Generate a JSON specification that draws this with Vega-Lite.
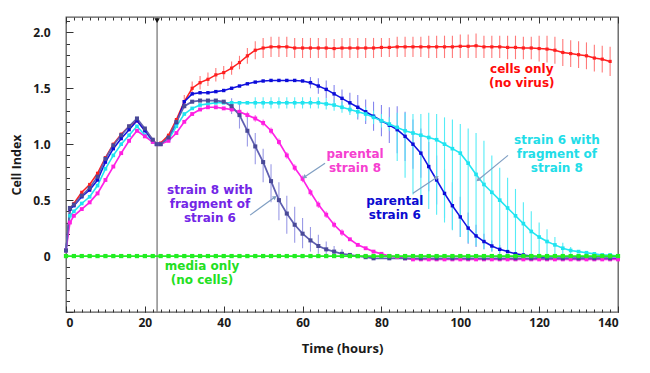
{
"$schema":"https://vega.github.io/schema/vega-lite/v6.json",
"width":552,"height":295,"autosize":"none",
"padding":{"left":66,"top":17,"right":32,"bottom":61},
"background":"white",
"config":{"view":{"stroke":"#5a5a5a","strokeWidth":1.3},"font":"Open Sans",
 "axis":{"grid":false,"domain":false,"tickColor":"#333","tickWidth":1,"labelFont":"Open Sans","labelFontWeight":"bold","labelFontSize":12,"labelColor":"#1a1a1a","titleFont":"Open Sans","titleFontWeight":"bold","titleFontSize":13,"titleColor":"#1a1a1a"}},
"datasets":{
"main":[
{"s":"cells","t":0,"v":0.05},{"s":"cells","t":1,"v":0.42},{"s":"cells","t":2,"v":0.47},{"s":"cells","t":4,"v":0.57},{"s":"cells","t":6,"v":0.64},{"s":"cells","t":8,"v":0.74},{"s":"cells","t":10,"v":0.88},{"s":"cells","t":12,"v":1.0},{"s":"cells","t":14,"v":1.09},{"s":"cells","t":16,"v":1.16},{"s":"cells","t":18,"v":1.21},{"s":"cells","t":20,"v":1.13},{"s":"cells","t":22,"v":1.04},{"s":"cells","t":23,"v":1.0},{"s":"cells","t":24,"v":1.01},{"s":"cells","t":26,"v":1.08},{"s":"cells","t":28,"v":1.22},{"s":"cells","t":30,"v":1.38},{"s":"cells","t":32,"v":1.5},{"s":"cells","t":34,"v":1.55},{"s":"cells","t":36,"v":1.58},{"s":"cells","t":38,"v":1.62},{"s":"cells","t":40,"v":1.64},{"s":"cells","t":42,"v":1.68},{"s":"cells","t":44,"v":1.73},{"s":"cells","t":46,"v":1.79},{"s":"cells","t":48,"v":1.84},{"s":"cells","t":50,"v":1.86},{"s":"cells","t":52,"v":1.87},{"s":"cells","t":54,"v":1.87},{"s":"cells","t":56,"v":1.87},{"s":"cells","t":58,"v":1.86},{"s":"cells","t":60,"v":1.86},{"s":"cells","t":62,"v":1.86},{"s":"cells","t":64,"v":1.86},{"s":"cells","t":66,"v":1.86},{"s":"cells","t":68,"v":1.855},{"s":"cells","t":70,"v":1.86},{"s":"cells","t":72,"v":1.86},{"s":"cells","t":74,"v":1.86},{"s":"cells","t":76,"v":1.86},{"s":"cells","t":78,"v":1.86},{"s":"cells","t":80,"v":1.865},{"s":"cells","t":82,"v":1.865},{"s":"cells","t":84,"v":1.87},{"s":"cells","t":86,"v":1.87},{"s":"cells","t":88,"v":1.87},{"s":"cells","t":90,"v":1.87},{"s":"cells","t":92,"v":1.87},{"s":"cells","t":94,"v":1.87},{"s":"cells","t":96,"v":1.87},{"s":"cells","t":98,"v":1.87},{"s":"cells","t":100,"v":1.875},{"s":"cells","t":102,"v":1.875},{"s":"cells","t":104,"v":1.88},{"s":"cells","t":106,"v":1.87},{"s":"cells","t":108,"v":1.87},{"s":"cells","t":110,"v":1.87},{"s":"cells","t":112,"v":1.865},{"s":"cells","t":114,"v":1.865},{"s":"cells","t":116,"v":1.86},{"s":"cells","t":118,"v":1.86},{"s":"cells","t":120,"v":1.855},{"s":"cells","t":122,"v":1.85},{"s":"cells","t":124,"v":1.84},{"s":"cells","t":126,"v":1.82},{"s":"cells","t":128,"v":1.81},{"s":"cells","t":130,"v":1.8},{"s":"cells","t":132,"v":1.79},{"s":"cells","t":134,"v":1.77},{"s":"cells","t":136,"v":1.76},{"s":"cells","t":138,"v":1.74},
{"s":"p6","t":0,"v":0.05},{"s":"p6","t":1,"v":0.42},{"s":"p6","t":2,"v":0.45},{"s":"p6","t":4,"v":0.53},{"s":"p6","t":6,"v":0.59},{"s":"p6","t":8,"v":0.68},{"s":"p6","t":10,"v":0.84},{"s":"p6","t":12,"v":0.96},{"s":"p6","t":14,"v":1.05},{"s":"p6","t":16,"v":1.13},{"s":"p6","t":18,"v":1.21},{"s":"p6","t":20,"v":1.12},{"s":"p6","t":22,"v":1.03},{"s":"p6","t":23,"v":1.0},{"s":"p6","t":24,"v":1.0},{"s":"p6","t":26,"v":1.05},{"s":"p6","t":28,"v":1.19},{"s":"p6","t":30,"v":1.38},{"s":"p6","t":32,"v":1.45},{"s":"p6","t":34,"v":1.46},{"s":"p6","t":36,"v":1.46},{"s":"p6","t":38,"v":1.47},{"s":"p6","t":40,"v":1.48},{"s":"p6","t":42,"v":1.5},{"s":"p6","t":44,"v":1.52},{"s":"p6","t":46,"v":1.54},{"s":"p6","t":48,"v":1.555},{"s":"p6","t":50,"v":1.565},{"s":"p6","t":52,"v":1.57},{"s":"p6","t":54,"v":1.57},{"s":"p6","t":56,"v":1.57},{"s":"p6","t":58,"v":1.57},{"s":"p6","t":60,"v":1.565},{"s":"p6","t":62,"v":1.55},{"s":"p6","t":64,"v":1.52},{"s":"p6","t":66,"v":1.49},{"s":"p6","t":68,"v":1.45},{"s":"p6","t":70,"v":1.41},{"s":"p6","t":72,"v":1.37},{"s":"p6","t":74,"v":1.33},{"s":"p6","t":76,"v":1.29},{"s":"p6","t":78,"v":1.25},{"s":"p6","t":80,"v":1.21},{"s":"p6","t":82,"v":1.17},{"s":"p6","t":84,"v":1.13},{"s":"p6","t":86,"v":1.07},{"s":"p6","t":88,"v":1.0},{"s":"p6","t":90,"v":0.92},{"s":"p6","t":92,"v":0.8},{"s":"p6","t":94,"v":0.68},{"s":"p6","t":96,"v":0.56},{"s":"p6","t":98,"v":0.45},{"s":"p6","t":100,"v":0.35},{"s":"p6","t":102,"v":0.25},{"s":"p6","t":104,"v":0.18},{"s":"p6","t":106,"v":0.13},{"s":"p6","t":108,"v":0.09},{"s":"p6","t":110,"v":0.06},{"s":"p6","t":112,"v":0.04},{"s":"p6","t":114,"v":0.02},{"s":"p6","t":116,"v":0.01},{"s":"p6","t":118,"v":0.0},{"s":"p6","t":120,"v":-0.01},{"s":"p6","t":122,"v":-0.02},{"s":"p6","t":124,"v":-0.02},{"s":"p6","t":126,"v":-0.02},{"s":"p6","t":128,"v":-0.02},{"s":"p6","t":130,"v":-0.02},{"s":"p6","t":132,"v":-0.02},{"s":"p6","t":134,"v":-0.02},{"s":"p6","t":136,"v":-0.02},{"s":"p6","t":138,"v":-0.02},{"s":"p6","t":140,"v":-0.02},
{"s":"s6f8","t":0,"v":0.05},{"s":"s6f8","t":1,"v":0.36},{"s":"s6f8","t":2,"v":0.4},{"s":"s6f8","t":4,"v":0.47},{"s":"s6f8","t":6,"v":0.53},{"s":"s6f8","t":8,"v":0.63},{"s":"s6f8","t":10,"v":0.78},{"s":"s6f8","t":12,"v":0.9},{"s":"s6f8","t":14,"v":1.0},{"s":"s6f8","t":16,"v":1.08},{"s":"s6f8","t":18,"v":1.16},{"s":"s6f8","t":20,"v":1.08},{"s":"s6f8","t":22,"v":1.02},{"s":"s6f8","t":23,"v":1.0},{"s":"s6f8","t":24,"v":1.0},{"s":"s6f8","t":26,"v":1.04},{"s":"s6f8","t":28,"v":1.16},{"s":"s6f8","t":30,"v":1.27},{"s":"s6f8","t":32,"v":1.32},{"s":"s6f8","t":34,"v":1.35},{"s":"s6f8","t":36,"v":1.36},{"s":"s6f8","t":38,"v":1.37},{"s":"s6f8","t":40,"v":1.37},{"s":"s6f8","t":42,"v":1.37},{"s":"s6f8","t":44,"v":1.37},{"s":"s6f8","t":46,"v":1.37},{"s":"s6f8","t":48,"v":1.37},{"s":"s6f8","t":50,"v":1.37},{"s":"s6f8","t":52,"v":1.37},{"s":"s6f8","t":54,"v":1.37},{"s":"s6f8","t":56,"v":1.37},{"s":"s6f8","t":58,"v":1.37},{"s":"s6f8","t":60,"v":1.37},{"s":"s6f8","t":62,"v":1.37},{"s":"s6f8","t":64,"v":1.37},{"s":"s6f8","t":66,"v":1.36},{"s":"s6f8","t":68,"v":1.35},{"s":"s6f8","t":70,"v":1.33},{"s":"s6f8","t":72,"v":1.31},{"s":"s6f8","t":74,"v":1.29},{"s":"s6f8","t":76,"v":1.27},{"s":"s6f8","t":78,"v":1.24},{"s":"s6f8","t":80,"v":1.21},{"s":"s6f8","t":82,"v":1.18},{"s":"s6f8","t":84,"v":1.15},{"s":"s6f8","t":86,"v":1.12},{"s":"s6f8","t":88,"v":1.1},{"s":"s6f8","t":90,"v":1.08},{"s":"s6f8","t":92,"v":1.06},{"s":"s6f8","t":94,"v":1.04},{"s":"s6f8","t":96,"v":1.0},{"s":"s6f8","t":98,"v":0.96},{"s":"s6f8","t":100,"v":0.92},{"s":"s6f8","t":102,"v":0.83},{"s":"s6f8","t":104,"v":0.73},{"s":"s6f8","t":106,"v":0.64},{"s":"s6f8","t":108,"v":0.57},{"s":"s6f8","t":110,"v":0.5},{"s":"s6f8","t":112,"v":0.43},{"s":"s6f8","t":114,"v":0.36},{"s":"s6f8","t":116,"v":0.29},{"s":"s6f8","t":118,"v":0.22},{"s":"s6f8","t":120,"v":0.17},{"s":"s6f8","t":122,"v":0.13},{"s":"s6f8","t":124,"v":0.1},{"s":"s6f8","t":126,"v":0.07},{"s":"s6f8","t":128,"v":0.05},{"s":"s6f8","t":130,"v":0.04},{"s":"s6f8","t":132,"v":0.03},{"s":"s6f8","t":134,"v":0.02},{"s":"s6f8","t":136,"v":0.01},{"s":"s6f8","t":138,"v":0.01},{"s":"s6f8","t":140,"v":0.0},
{"s":"p8","t":0,"v":0.05},{"s":"p8","t":1,"v":0.3},{"s":"p8","t":2,"v":0.36},{"s":"p8","t":4,"v":0.42},{"s":"p8","t":6,"v":0.48},{"s":"p8","t":8,"v":0.56},{"s":"p8","t":10,"v":0.68},{"s":"p8","t":12,"v":0.8},{"s":"p8","t":14,"v":0.92},{"s":"p8","t":16,"v":1.03},{"s":"p8","t":18,"v":1.12},{"s":"p8","t":20,"v":1.07},{"s":"p8","t":22,"v":1.02},{"s":"p8","t":23,"v":1.0},{"s":"p8","t":24,"v":1.0},{"s":"p8","t":26,"v":1.03},{"s":"p8","t":28,"v":1.1},{"s":"p8","t":30,"v":1.2},{"s":"p8","t":32,"v":1.27},{"s":"p8","t":34,"v":1.31},{"s":"p8","t":36,"v":1.33},{"s":"p8","t":38,"v":1.33},{"s":"p8","t":40,"v":1.32},{"s":"p8","t":42,"v":1.31},{"s":"p8","t":44,"v":1.29},{"s":"p8","t":46,"v":1.26},{"s":"p8","t":48,"v":1.23},{"s":"p8","t":50,"v":1.19},{"s":"p8","t":52,"v":1.12},{"s":"p8","t":54,"v":1.02},{"s":"p8","t":56,"v":0.9},{"s":"p8","t":58,"v":0.79},{"s":"p8","t":60,"v":0.69},{"s":"p8","t":62,"v":0.57},{"s":"p8","t":64,"v":0.46},{"s":"p8","t":66,"v":0.37},{"s":"p8","t":68,"v":0.28},{"s":"p8","t":70,"v":0.21},{"s":"p8","t":72,"v":0.15},{"s":"p8","t":74,"v":0.1},{"s":"p8","t":76,"v":0.07},{"s":"p8","t":78,"v":0.04},{"s":"p8","t":80,"v":0.02},{"s":"p8","t":82,"v":0.0},{"s":"p8","t":84,"v":-0.01},{"s":"p8","t":86,"v":-0.02},{"s":"p8","t":88,"v":-0.03},{"s":"p8","t":90,"v":-0.03},{"s":"p8","t":92,"v":-0.03},{"s":"p8","t":94,"v":-0.03},{"s":"p8","t":96,"v":-0.03},{"s":"p8","t":98,"v":-0.03},{"s":"p8","t":100,"v":-0.03},{"s":"p8","t":102,"v":-0.03},{"s":"p8","t":104,"v":-0.03},{"s":"p8","t":106,"v":-0.03},{"s":"p8","t":108,"v":-0.03},{"s":"p8","t":110,"v":-0.03},{"s":"p8","t":112,"v":-0.03},{"s":"p8","t":114,"v":-0.03},{"s":"p8","t":116,"v":-0.03},{"s":"p8","t":118,"v":-0.03},{"s":"p8","t":120,"v":-0.03},{"s":"p8","t":122,"v":-0.03},{"s":"p8","t":124,"v":-0.03},{"s":"p8","t":126,"v":-0.03},{"s":"p8","t":128,"v":-0.03},{"s":"p8","t":130,"v":-0.03},{"s":"p8","t":132,"v":-0.03},{"s":"p8","t":134,"v":-0.03},{"s":"p8","t":136,"v":-0.03},{"s":"p8","t":138,"v":-0.03},{"s":"p8","t":140,"v":-0.03},
{"s":"s8f6","t":0,"v":0.05},{"s":"s8f6","t":1,"v":0.43},{"s":"s8f6","t":2,"v":0.46},{"s":"s8f6","t":4,"v":0.54},{"s":"s8f6","t":6,"v":0.61},{"s":"s8f6","t":8,"v":0.71},{"s":"s8f6","t":10,"v":0.87},{"s":"s8f6","t":12,"v":0.99},{"s":"s8f6","t":14,"v":1.08},{"s":"s8f6","t":16,"v":1.16},{"s":"s8f6","t":18,"v":1.23},{"s":"s8f6","t":20,"v":1.14},{"s":"s8f6","t":22,"v":1.04},{"s":"s8f6","t":23,"v":1.0},{"s":"s8f6","t":24,"v":1.0},{"s":"s8f6","t":26,"v":1.06},{"s":"s8f6","t":28,"v":1.2},{"s":"s8f6","t":30,"v":1.34},{"s":"s8f6","t":32,"v":1.38},{"s":"s8f6","t":34,"v":1.39},{"s":"s8f6","t":36,"v":1.39},{"s":"s8f6","t":38,"v":1.39},{"s":"s8f6","t":40,"v":1.38},{"s":"s8f6","t":42,"v":1.34},{"s":"s8f6","t":44,"v":1.26},{"s":"s8f6","t":46,"v":1.12},{"s":"s8f6","t":48,"v":0.98},{"s":"s8f6","t":50,"v":0.84},{"s":"s8f6","t":52,"v":0.67},{"s":"s8f6","t":54,"v":0.5},{"s":"s8f6","t":56,"v":0.38},{"s":"s8f6","t":58,"v":0.28},{"s":"s8f6","t":60,"v":0.2},{"s":"s8f6","t":62,"v":0.14},{"s":"s8f6","t":64,"v":0.09},{"s":"s8f6","t":66,"v":0.06},{"s":"s8f6","t":68,"v":0.04},{"s":"s8f6","t":70,"v":0.02},{"s":"s8f6","t":72,"v":0.01},{"s":"s8f6","t":74,"v":0.0},{"s":"s8f6","t":76,"v":-0.01},{"s":"s8f6","t":78,"v":-0.02},{"s":"s8f6","t":82,"v":-0.02},{"s":"s8f6","t":86,"v":-0.02},{"s":"s8f6","t":90,"v":-0.02},{"s":"s8f6","t":94,"v":-0.02},{"s":"s8f6","t":98,"v":-0.02},{"s":"s8f6","t":102,"v":-0.02},{"s":"s8f6","t":106,"v":-0.02},{"s":"s8f6","t":110,"v":-0.02},{"s":"s8f6","t":114,"v":-0.02},{"s":"s8f6","t":118,"v":-0.02},{"s":"s8f6","t":122,"v":-0.02},{"s":"s8f6","t":126,"v":-0.02},{"s":"s8f6","t":130,"v":-0.02},{"s":"s8f6","t":134,"v":-0.02},{"s":"s8f6","t":138,"v":-0.02},
{"s":"media","t":0,"v":0},{"s":"media","t":2,"v":0},{"s":"media","t":4,"v":0},{"s":"media","t":6,"v":0},{"s":"media","t":8,"v":0},{"s":"media","t":10,"v":0},{"s":"media","t":12,"v":0},{"s":"media","t":14,"v":0},{"s":"media","t":16,"v":0},{"s":"media","t":18,"v":0},{"s":"media","t":20,"v":0},{"s":"media","t":22,"v":0},{"s":"media","t":24,"v":0},{"s":"media","t":26,"v":0},{"s":"media","t":28,"v":0},{"s":"media","t":30,"v":0},{"s":"media","t":32,"v":0},{"s":"media","t":34,"v":0},{"s":"media","t":36,"v":0},{"s":"media","t":38,"v":0},{"s":"media","t":40,"v":0},{"s":"media","t":42,"v":0},{"s":"media","t":44,"v":0},{"s":"media","t":46,"v":0},{"s":"media","t":48,"v":0},{"s":"media","t":50,"v":0},{"s":"media","t":52,"v":0},{"s":"media","t":54,"v":0},{"s":"media","t":56,"v":0},{"s":"media","t":58,"v":0},{"s":"media","t":60,"v":0},{"s":"media","t":62,"v":0},{"s":"media","t":64,"v":0},{"s":"media","t":66,"v":0},{"s":"media","t":68,"v":0},{"s":"media","t":70,"v":0},{"s":"media","t":72,"v":0},{"s":"media","t":74,"v":0},{"s":"media","t":76,"v":0},{"s":"media","t":78,"v":0},{"s":"media","t":80,"v":0},{"s":"media","t":82,"v":0},{"s":"media","t":84,"v":0},{"s":"media","t":86,"v":0},{"s":"media","t":88,"v":0},{"s":"media","t":90,"v":0},{"s":"media","t":92,"v":0},{"s":"media","t":94,"v":0},{"s":"media","t":96,"v":0},{"s":"media","t":98,"v":0},{"s":"media","t":100,"v":0},{"s":"media","t":102,"v":0},{"s":"media","t":104,"v":0},{"s":"media","t":106,"v":0},{"s":"media","t":108,"v":0},{"s":"media","t":110,"v":0},{"s":"media","t":112,"v":0},{"s":"media","t":114,"v":0},{"s":"media","t":116,"v":0},{"s":"media","t":118,"v":0},{"s":"media","t":120,"v":0},{"s":"media","t":122,"v":0},{"s":"media","t":124,"v":0},{"s":"media","t":126,"v":0},{"s":"media","t":128,"v":0},{"s":"media","t":130,"v":0},{"s":"media","t":132,"v":0},{"s":"media","t":134,"v":0},{"s":"media","t":136,"v":0},{"s":"media","t":138,"v":0},{"s":"media","t":140,"v":0}
],
"err":[
{"s":"cells","t":30,"lo":1.32,"hi":1.44},{"s":"cells","t":32,"lo":1.44,"hi":1.56},{"s":"cells","t":34,"lo":1.49,"hi":1.61},{"s":"cells","t":36,"lo":1.52,"hi":1.64},{"s":"cells","t":38,"lo":1.56,"hi":1.68},{"s":"cells","t":40,"lo":1.58,"hi":1.7},{"s":"cells","t":42,"lo":1.62,"hi":1.74},{"s":"cells","t":44,"lo":1.67,"hi":1.79},{"s":"cells","t":46,"lo":1.72,"hi":1.86},{"s":"cells","t":48,"lo":1.76,"hi":1.92},{"s":"cells","t":50,"lo":1.77,"hi":1.95},{"s":"cells","t":52,"lo":1.78,"hi":1.96},{"s":"cells","t":54,"lo":1.78,"hi":1.96},{"s":"cells","t":56,"lo":1.78,"hi":1.96},{"s":"cells","t":58,"lo":1.77,"hi":1.95},{"s":"cells","t":60,"lo":1.77,"hi":1.95},{"s":"cells","t":62,"lo":1.77,"hi":1.95},{"s":"cells","t":64,"lo":1.77,"hi":1.95},{"s":"cells","t":66,"lo":1.77,"hi":1.95},{"s":"cells","t":68,"lo":1.77,"hi":1.94},{"s":"cells","t":70,"lo":1.77,"hi":1.95},{"s":"cells","t":72,"lo":1.77,"hi":1.95},{"s":"cells","t":74,"lo":1.77,"hi":1.95},{"s":"cells","t":76,"lo":1.77,"hi":1.95},{"s":"cells","t":78,"lo":1.77,"hi":1.95},{"s":"cells","t":80,"lo":1.78,"hi":1.95},{"s":"cells","t":82,"lo":1.78,"hi":1.95},{"s":"cells","t":84,"lo":1.78,"hi":1.96},{"s":"cells","t":86,"lo":1.78,"hi":1.96},{"s":"cells","t":88,"lo":1.78,"hi":1.96},{"s":"cells","t":90,"lo":1.78,"hi":1.96},{"s":"cells","t":92,"lo":1.77,"hi":1.97},{"s":"cells","t":94,"lo":1.77,"hi":1.97},{"s":"cells","t":96,"lo":1.77,"hi":1.97},{"s":"cells","t":98,"lo":1.77,"hi":1.97},{"s":"cells","t":100,"lo":1.77,"hi":1.98},{"s":"cells","t":102,"lo":1.77,"hi":1.98},{"s":"cells","t":104,"lo":1.77,"hi":1.99},{"s":"cells","t":106,"lo":1.77,"hi":1.97},{"s":"cells","t":108,"lo":1.77,"hi":1.97},{"s":"cells","t":110,"lo":1.77,"hi":1.97},{"s":"cells","t":112,"lo":1.76,"hi":1.97},{"s":"cells","t":114,"lo":1.76,"hi":1.97},{"s":"cells","t":116,"lo":1.76,"hi":1.96},{"s":"cells","t":118,"lo":1.76,"hi":1.96},{"s":"cells","t":120,"lo":1.74,"hi":1.97},{"s":"cells","t":122,"lo":1.73,"hi":1.97},{"s":"cells","t":124,"lo":1.72,"hi":1.96},{"s":"cells","t":126,"lo":1.7,"hi":1.94},{"s":"cells","t":128,"lo":1.69,"hi":1.93},{"s":"cells","t":130,"lo":1.68,"hi":1.92},{"s":"cells","t":132,"lo":1.67,"hi":1.91},{"s":"cells","t":134,"lo":1.65,"hi":1.89},{"s":"cells","t":136,"lo":1.64,"hi":1.88},{"s":"cells","t":138,"lo":1.61,"hi":1.87},
{"s":"p6","t":62,"lo":1.5,"hi":1.6},{"s":"p6","t":64,"lo":1.45,"hi":1.59},{"s":"p6","t":66,"lo":1.41,"hi":1.57},{"s":"p6","t":68,"lo":1.37,"hi":1.53},{"s":"p6","t":70,"lo":1.33,"hi":1.49},{"s":"p6","t":72,"lo":1.28,"hi":1.46},{"s":"p6","t":74,"lo":1.22,"hi":1.44},{"s":"p6","t":76,"lo":1.18,"hi":1.4},{"s":"p6","t":78,"lo":1.12,"hi":1.38},{"s":"p6","t":80,"lo":1.07,"hi":1.35},{"s":"p6","t":82,"lo":1.01,"hi":1.33},{"s":"p6","t":84,"lo":0.92,"hi":1.34},{"s":"p6","t":86,"lo":0.85,"hi":1.29},{"s":"p6","t":88,"lo":0.78,"hi":1.22},{"s":"p6","t":90,"lo":0.7,"hi":1.14},{"s":"p6","t":92,"lo":0.58,"hi":1.02},{"s":"p6","t":94,"lo":0.46,"hi":0.9},{"s":"p6","t":96,"lo":0.34,"hi":0.78},{"s":"p6","t":98,"lo":0.24,"hi":0.66},{"s":"p6","t":100,"lo":0.17,"hi":0.53},{"s":"p6","t":102,"lo":0.11,"hi":0.39},{"s":"p6","t":104,"lo":0.08,"hi":0.28},{"s":"p6","t":106,"lo":0.06,"hi":0.2},{"s":"p6","t":108,"lo":0.04,"hi":0.14},{"s":"p6","t":110,"lo":0.02,"hi":0.1},
{"s":"s6f8","t":48,"lo":1.32,"hi":1.42},{"s":"s6f8","t":50,"lo":1.32,"hi":1.42},{"s":"s6f8","t":52,"lo":1.32,"hi":1.42},{"s":"s6f8","t":54,"lo":1.32,"hi":1.42},{"s":"s6f8","t":56,"lo":1.32,"hi":1.42},{"s":"s6f8","t":58,"lo":1.32,"hi":1.42},{"s":"s6f8","t":60,"lo":1.32,"hi":1.42},{"s":"s6f8","t":62,"lo":1.32,"hi":1.42},{"s":"s6f8","t":64,"lo":1.32,"hi":1.42},{"s":"s6f8","t":66,"lo":1.31,"hi":1.41},{"s":"s6f8","t":68,"lo":1.3,"hi":1.4},{"s":"s6f8","t":70,"lo":1.28,"hi":1.38},{"s":"s6f8","t":72,"lo":1.26,"hi":1.36},{"s":"s6f8","t":74,"lo":1.24,"hi":1.34},{"s":"s6f8","t":76,"lo":1.21,"hi":1.33},{"s":"s6f8","t":78,"lo":1.18,"hi":1.3},{"s":"s6f8","t":80,"lo":1.15,"hi":1.27},{"s":"s6f8","t":82,"lo":1.12,"hi":1.24},{"s":"s6f8","t":84,"lo":0.85,"hi":1.28},{"s":"s6f8","t":86,"lo":0.7,"hi":1.28},{"s":"s6f8","t":88,"lo":0.55,"hi":1.27},{"s":"s6f8","t":90,"lo":0.46,"hi":1.27},{"s":"s6f8","t":92,"lo":0.42,"hi":1.28},{"s":"s6f8","t":94,"lo":0.37,"hi":1.27},{"s":"s6f8","t":96,"lo":0.3,"hi":1.24},{"s":"s6f8","t":98,"lo":0.23,"hi":1.22},{"s":"s6f8","t":100,"lo":0.17,"hi":1.18},{"s":"s6f8","t":102,"lo":0.12,"hi":1.14},{"s":"s6f8","t":104,"lo":0.09,"hi":1.1},{"s":"s6f8","t":106,"lo":0.06,"hi":1.03},{"s":"s6f8","t":108,"lo":0.04,"hi":0.9},{"s":"s6f8","t":110,"lo":0.03,"hi":0.79},{"s":"s6f8","t":112,"lo":0.03,"hi":0.7},{"s":"s6f8","t":114,"lo":0.02,"hi":0.6},{"s":"s6f8","t":116,"lo":0.01,"hi":0.48},{"s":"s6f8","t":118,"lo":0.01,"hi":0.4},{"s":"s6f8","t":120,"lo":0.0,"hi":0.3},{"s":"s6f8","t":122,"lo":0.0,"hi":0.24},{"s":"s6f8","t":124,"lo":0.0,"hi":0.17},{"s":"s6f8","t":126,"lo":0.0,"hi":0.12},{"s":"s6f8","t":128,"lo":0.0,"hi":0.08},
{"s":"p8","t":46,"lo":1.23,"hi":1.29},{"s":"p8","t":48,"lo":1.2,"hi":1.26},{"s":"p8","t":50,"lo":1.16,"hi":1.22},{"s":"p8","t":52,"lo":1.09,"hi":1.15},{"s":"p8","t":54,"lo":0.99,"hi":1.05},{"s":"p8","t":56,"lo":0.87,"hi":0.93},{"s":"p8","t":58,"lo":0.76,"hi":0.82},{"s":"p8","t":60,"lo":0.66,"hi":0.72},{"s":"p8","t":62,"lo":0.54,"hi":0.6},{"s":"p8","t":64,"lo":0.43,"hi":0.49},{"s":"p8","t":66,"lo":0.34,"hi":0.4},{"s":"p8","t":68,"lo":0.25,"hi":0.31},{"s":"p8","t":70,"lo":0.18,"hi":0.24},
{"s":"s8f6","t":42,"lo":1.27,"hi":1.41},{"s":"s8f6","t":44,"lo":1.14,"hi":1.36},{"s":"s8f6","t":46,"lo":0.98,"hi":1.24},{"s":"s8f6","t":48,"lo":0.82,"hi":1.1},{"s":"s8f6","t":50,"lo":0.66,"hi":0.96},{"s":"s8f6","t":52,"lo":0.48,"hi":0.82},{"s":"s8f6","t":54,"lo":0.32,"hi":0.66},{"s":"s8f6","t":56,"lo":0.2,"hi":0.54},{"s":"s8f6","t":58,"lo":0.12,"hi":0.44},{"s":"s8f6","t":60,"lo":0.07,"hi":0.34},{"s":"s8f6","t":62,"lo":0.04,"hi":0.26},{"s":"s8f6","t":64,"lo":0.02,"hi":0.19},{"s":"s8f6","t":66,"lo":0.01,"hi":0.13},{"s":"s8f6","t":68,"lo":0.0,"hi":0.09},{"s":"s8f6","t":70,"lo":0.0,"hi":0.06}
],
"lab":[
{"s":"cells","t":115.6,"v":1.672,"label":"cells only\n(no virus)"},
{"s":"p8","t":73.3,"v":0.913,"label":"parental\nstrain 8"},
{"s":"p6","t":83.4,"v":0.493,"label":"parental\nstrain 6"},
{"s":"s8f6","t":36.5,"v":0.591,"label":"strain 8 with\nfragment of\nstrain 6"},
{"s":"s6f8","t":124.5,"v":1.038,"label":"strain 6 with\nfragment of\nstrain 8"},
{"s":"media","t":34.5,"v":-0.087,"label":"media only\n(no cells)"}
],
"arr":[
{"s":"p8","t":65.7,"v":0.83,"t2":60.4,"v2":0.705},
{"s":"s8f6","t":46.7,"v":0.366,"t2":53.0,"v2":0.527},
{"s":"p6","t":88.0,"v":0.5625,"t2":94.1,"v2":0.705},
{"s":"s6f8","t":112.1,"v":0.9,"t2":104.5,"v2":0.68}
],
"vline":[{"t":23.1,"v":2.105}]
},
"resolve":{"axis":{"x":"independent","y":"independent"},"scale":{"color":"independent","size":"independent"}},
"layer":[
{"data":{"name":"vline"},"mark":{"type":"point","opacity":0},
 "encoding":{
  "x":{"field":"t","type":"quantitative","scale":{"domain":[0,140],"nice":false,"zero":false},"axis":{"orient":"bottom","values":[0,20,40,60,80,100,120,140],"tickSize":-6,"labelPadding":11,"title":"Time (hours)","titlePadding":14}},
  "y":{"field":"v","type":"quantitative","scale":{"domain":[-0.5,2.137],"nice":false,"zero":false},"axis":{"orient":"left","values":[-0.5,0,0.5,1,1.5,2],"tickSize":-7,"labelPadding":23,"labelExpr":"datum.value == 0 ? '0' : (datum.value < 0 ? '' : format(datum.value, '.1f'))","title":"Cell Index","titleFontSize":12.5,"titlePadding":9}}}},
{"data":{"name":"vline"},"mark":{"type":"point","opacity":0},
 "encoding":{
  "x":{"field":"t","type":"quantitative","scale":{"domain":[0,140],"nice":false,"zero":false},"axis":{"orient":"bottom","values":[0,2,4,6,8,10,12,14,16,18,20,22,24,26,28,30,32,34,36,38,40,42,44,46,48,50,52,54,56,58,60,62,64,66,68,70,72,74,76,78,80,82,84,86,88,90,92,94,96,98,100,102,104,106,108,110,112,114,116,118,120,122,124,126,128,130,132,134,136,138,140],"tickSize":-3,"labels":false,"title":null}},
  "y":{"field":"v","type":"quantitative","scale":{"domain":[-0.5,2.137],"nice":false,"zero":false},"axis":{"orient":"left","values":[-0.5,-0.4,-0.3,-0.2,-0.1,0,0.1,0.2,0.3,0.4,0.5,0.6,0.7,0.8,0.9,1,1.1,1.2,1.3,1.4,1.5,1.6,1.7,1.8,1.9,2,2.1],"tickSize":-3.5,"labels":false,"title":null}}}},
{"data":{"name":"vline"},"mark":{"type":"point","opacity":0},
 "encoding":{
  "x":{"field":"t","type":"quantitative","scale":{"domain":[0,140],"nice":false,"zero":false},"axis":{"orient":"top","values":[0,20,40,60,80,100,120,140],"tickSize":-6,"labels":false,"title":null}},
  "y":{"field":"v","type":"quantitative","scale":{"domain":[-0.5,2.137],"nice":false,"zero":false},"axis":null}}},
{"data":{"name":"vline"},"mark":{"type":"point","opacity":0},
 "encoding":{
  "x":{"field":"t","type":"quantitative","scale":{"domain":[0,140],"nice":false,"zero":false},"axis":{"orient":"top","values":[0,2,4,6,8,10,12,14,16,18,20,22,24,26,28,30,32,34,36,38,40,42,44,46,48,50,52,54,56,58,60,62,64,66,68,70,72,74,76,78,80,82,84,86,88,90,92,94,96,98,100,102,104,106,108,110,112,114,116,118,120,122,124,126,128,130,132,134,136,138,140],"tickSize":-3,"labels":false,"title":null}},
  "y":{"field":"v","type":"quantitative","scale":{"domain":[-0.5,2.137],"nice":false,"zero":false},"axis":null}}},
{"data":{"name":"vline"},"mark":{"type":"rule","color":"#7a7a7a","strokeWidth":1.3},
 "encoding":{"x":{"field":"t","type":"quantitative","scale":{"domain":[0,140],"nice":false,"zero":false},"axis":null}}},
{"data":{"name":"err"},"mark":{"type":"rule","strokeWidth":1.1},
 "encoding":{
  "x":{"field":"t","type":"quantitative","scale":{"domain":[0,140],"nice":false,"zero":false},"axis":null},
  "y":{"field":"lo","type":"quantitative","scale":{"domain":[-0.5,2.137],"nice":false,"zero":false},"axis":null},
  "y2":{"field":"hi"},
  "color":{"field":"s","type":"nominal","legend":null,"scale":{"domain":["cells","p6","s6f8","p8","s8f6","media"],"range":["#ff7a7a","#8585ee","#55ecf6","#ff6cec","#9a9ae6","#30ee30"]}}}},
{"data":{"name":"main"},"mark":{"type":"line","strokeWidth":1.5},
 "encoding":{
  "x":{"field":"t","type":"quantitative","scale":{"domain":[0,140],"nice":false,"zero":false},"axis":null},
  "y":{"field":"v","type":"quantitative","scale":{"domain":[-0.5,2.137],"nice":false,"zero":false},"axis":null},
  "detail":{"field":"s"},
  "color":{"field":"s","type":"nominal","legend":null,"scale":{"domain":["cells","p6","s6f8","p8","s8f6","media"],"range":["#ff1f1f","#1212e0","#22e6f2","#ff22e6","#5f5fb0","#22ee22"]}},
  "size":{"field":"s","type":"nominal","legend":null,"scale":{"domain":["cells","p6","s6f8","p8","s8f6","media"],"range":[1.5,1.8,1.3,1.8,1.1,3]}}}},
{"data":{"name":"main"},"mark":{"type":"point","shape":"square","filled":true,"opacity":1},
 "encoding":{
  "x":{"field":"t","type":"quantitative","scale":{"domain":[0,140],"nice":false,"zero":false},"axis":null},
  "y":{"field":"v","type":"quantitative","scale":{"domain":[-0.5,2.137],"nice":false,"zero":false},"axis":null},
  "color":{"field":"s","type":"nominal","legend":null,"scale":{"domain":["cells","p6","s6f8","p8","s8f6","media"],"range":["#ff1f1f","#0c0cd8","#20e4f0","#ff1fe0","#4a4a98","#22ee22"]}},
  "size":{"field":"s","type":"nominal","legend":null,"scale":{"domain":["cells","p6","s6f8","p8","s8f6","media"],"range":[10,18,10,18,7,14]}}}},
{"data":{"name":"arr"},"mark":{"type":"rule","color":"#7f9ec2","strokeWidth":1.2},
 "encoding":{
  "x":{"field":"t","type":"quantitative","scale":{"domain":[0,140],"nice":false,"zero":false},"axis":null},
  "y":{"field":"v","type":"quantitative","scale":{"domain":[-0.5,2.137],"nice":false,"zero":false},"axis":null},
  "x2":{"field":"t2"},"y2":{"field":"v2"}}},
{"data":{"name":"arr"},"transform":[{"filter":"datum.s == 'p8'"}],"mark":{"type":"point","shape":"triangle-up","angle":236,"filled":true,"size":22,"color":"#7f9ec2","opacity":1},
 "encoding":{"x":{"field":"t2","type":"quantitative","scale":{"domain":[0,140],"nice":false,"zero":false},"axis":null},"y":{"field":"v2","type":"quantitative","scale":{"domain":[-0.5,2.137],"nice":false,"zero":false},"axis":null}}},
{"data":{"name":"arr"},"transform":[{"filter":"datum.s == 's8f6'"}],"mark":{"type":"point","shape":"triangle-up","angle":54,"filled":true,"size":22,"color":"#7f9ec2","opacity":1},
 "encoding":{"x":{"field":"t2","type":"quantitative","scale":{"domain":[0,140],"nice":false,"zero":false},"axis":null},"y":{"field":"v2","type":"quantitative","scale":{"domain":[-0.5,2.137],"nice":false,"zero":false},"axis":null}}},
{"data":{"name":"arr"},"transform":[{"filter":"datum.s == 'p6'"}],"mark":{"type":"point","shape":"triangle-up","angle":56,"filled":true,"size":22,"color":"#7f9ec2","opacity":1},
 "encoding":{"x":{"field":"t2","type":"quantitative","scale":{"domain":[0,140],"nice":false,"zero":false},"axis":null},"y":{"field":"v2","type":"quantitative","scale":{"domain":[-0.5,2.137],"nice":false,"zero":false},"axis":null}}},
{"data":{"name":"arr"},"transform":[{"filter":"datum.s == 's6f8'"}],"mark":{"type":"point","shape":"triangle-up","angle":230,"filled":true,"size":22,"color":"#7f9ec2","opacity":1},
 "encoding":{"x":{"field":"t2","type":"quantitative","scale":{"domain":[0,140],"nice":false,"zero":false},"axis":null},"y":{"field":"v2","type":"quantitative","scale":{"domain":[-0.5,2.137],"nice":false,"zero":false},"axis":null}}},
{"data":{"name":"vline"},"mark":{"type":"point","shape":"triangle-down","filled":true,"size":30,"color":"#111","opacity":1},
 "encoding":{"x":{"field":"t","type":"quantitative","scale":{"domain":[0,140],"nice":false,"zero":false},"axis":null},"y":{"field":"v","type":"quantitative","scale":{"domain":[-0.5,2.137],"nice":false,"zero":false},"axis":null}}},
{"data":{"name":"lab"},"mark":{"type":"text","font":"DejaVu Sans","fontWeight":"bold","fontSize":12,"lineHeight":14,"lineBreak":"\n","align":"center","baseline":"middle"},
 "encoding":{
  "x":{"field":"t","type":"quantitative","scale":{"domain":[0,140],"nice":false,"zero":false},"axis":null},
  "y":{"field":"v","type":"quantitative","scale":{"domain":[-0.5,2.137],"nice":false,"zero":false},"axis":null},
  "text":{"field":"label"},
  "color":{"field":"s","type":"nominal","legend":null,"scale":{"domain":["cells","p6","s6f8","p8","s8f6","media"],"range":["#ff0a0a","#0a0ad0","#22dde8","#f640d0","#7326e6","#22e022"]}}}}
]
}
